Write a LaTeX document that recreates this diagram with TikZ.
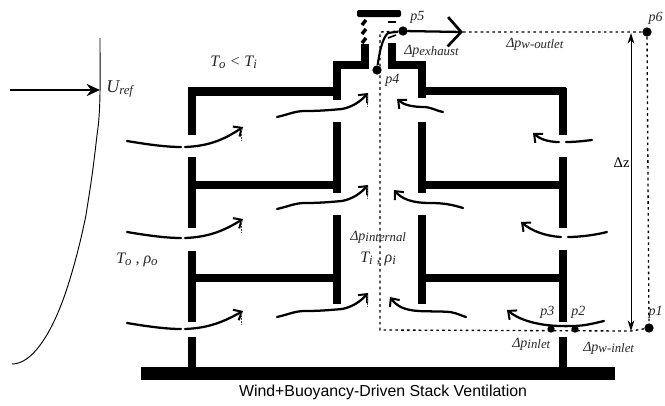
\documentclass[tikz,border=0pt]{standalone}
\usepackage{fontspec}
\setmainfont{Liberation Serif}
\setsansfont{Liberation Sans}
\usetikzlibrary{arrows.meta}
\tikzset{
  wall/.style={line width=6.2pt,black,line cap=butt,line join=miter},
  thinwall/.style={line width=5.4pt,black,line cap=butt,line join=miter},
  flowline/.style={line width=1.7pt,line cap=round},
  flowhead/.style={line width=1.7pt,line cap=round,-{Straight Barb[length=5pt,width=9pt,line width=1.5pt]}},
  backhead/.style={line width=1.7pt,line cap=round,{Straight Barb[length=5pt,width=9pt,line width=1.5pt]}-},
  dots/.style={line width=1pt,dash pattern=on 2pt off 2.4pt},
  lab/.style={font=\fontsize{10.5}{12}\selectfont\itshape,inner sep=0pt,text=black!85},
  dot/.style={circle,fill=black,inner sep=0pt,minimum size=7pt},
  tick/.style={line width=.7pt,dash pattern=on 1.2pt off .8pt,black!70}
}
\newcommand{\subt}[1]{\raisebox{-.25ex}{\fontsize{9.6}{10}\selectfont #1}}
\begin{document}
\begin{tikzpicture}[x=0.75pt,y=-0.75pt]
\useasboundingbox (0,0) rectangle (665,405);
% ground
\fill (141,367) rectangle (615,380);
% left outer wall
\draw[wall] (192,88) -- (192,135);
\draw[wall] (192,157) -- (192,228);
\draw[wall] (192,251) -- (192,322);
\draw[wall] (192,337) -- (192,367);
\draw[wall] (188,91.5) -- (337,91.5);
\draw[wall] (192,185) -- (337,185);
\draw[wall] (192,278) -- (337,278);
% left shaft wall
\draw[thinwall] (365,44) -- (365,65) -- (337,65) -- (337,100);
\draw[thinwall] (337,122) -- (337,193);
\draw[thinwall] (337,215) -- (337,304);
% right shaft wall
\draw[thinwall] (392,43) -- (392,65) -- (422,65) -- (422,98);
\draw[thinwall] (422,122) -- (422,193);
\draw[thinwall] (422,215) -- (422,304);
% right outer wall
\draw[wall] (422,91) -- (566,91);
\draw[wall] (422,185) -- (563,185);
\draw[wall] (422,278) -- (563,278);
\draw[wall] (563,88) -- (563,135);
\draw[wall] (563,157) -- (563,228);
\draw[wall] (563,250) -- (563,322);
\draw[wall] (563,337) -- (563,367);
% cap
\fill[rounded corners=1.5pt] (357,10) rectangle (401,17);
\foreach \a in {20,29,38}{
  \draw[line width=2.6pt] (362,\a+5) -- (366,\a);
}
\fill (388,21) rectangle (396,23);
% wind profile
\draw[line width=.7pt] (100,38) .. controls (100,80) and (101,110) .. (97,135)
  .. controls (92,180) and (89,195) .. (86,215)
  .. controls (80,245) and (72,275) .. (63,300)
  .. controls (50,335) and (32,364) .. (12,364);
% pressure points
\node[dot] (pfive) at (403,31) {};
\node[dot] (pfour) at (377,70) {};
\node[dot] (psix) at (647,32) {};
\node[dot] (pone) at (649,328) {};
\node[dot,minimum size=5.5pt] (ptwo) at (575,329) {};
\node[dot,minimum size=5.5pt] (pthree) at (551,329) {};
\coordinate (uin) at (10,90);
\coordinate (uout) at (100,90);
\coordinate (ex) at (463,32);
\coordinate (cor) at (380,32);
\coordinate (bot) at (380,330);
\coordinate (ztop) at (631,33);
\coordinate (zbot) at (631,331);
% dotted lines
\draw[dots] (ex) -- (psix) -- (pone) -- (zbot) -- (bot) -- (cor) -- (pfive);
% dz
\draw[line width=.7pt,{Stealth[length=8pt,width=5pt]}-{Stealth[length=8pt,width=5pt]}] (ztop) -- (zbot);
% Uref
\draw[line width=1.3pt,-{Stealth[length=10pt,width=9pt]}] (uin) -- (uout);
% exhaust
\draw[line width=1.6pt] (pfour) .. controls (379,55) and (382,38) .. (388,33) -- (pfive);
\draw[line width=1.2pt] (388,38) -- (396,35);
\draw[line width=1.7pt,line cap=round,-{Straight Barb[length=10pt,width=22pt,line width=2pt]}] (pfive) -- (ex);
% flows left, entering
\foreach \y/\e in {141/128,232/220,323/312}{
  \draw[flowline] (127,\y) .. controls (145,\y+3) and (165,\y+6) .. (181,\y+6);
  \draw[flowhead] (185,\y+6) .. controls (210,\y+5) and (225,\y-2) .. (243,\e-1);
  \draw[tick] (241,\e+1) -- (241,\e+12);
}
% flows through left shaft wall
\foreach \y in {117,209,317}{
  \draw[flowline] (277,\y) .. controls (290,\y-3) and (295,\y-6) .. (305,\y-6) .. controls (320,\y-6) and (330,\y-7) .. (342,\y-8);
  \draw[flowhead] (342,\y-8) .. controls (352,\y-10) and (360,\y-15) .. (368,\y-24);
  \draw[tick] (367,\y-22) -- (367,\y-11);
}
% flows through right shaft wall
\draw[backhead] (397,99) .. controls (404,105) and (412,107) .. (425,107) .. controls (433,108) and (437,111) .. (443,112);
\draw[backhead] (394,190) .. controls (402,199) and (412,203) .. (430,203) .. controls (445,203) and (453,205) .. (463,208);
\draw[backhead] (390,297) .. controls (403,315) and (425,310) .. (450,312) .. controls (457,313) and (462,316) .. (466,317);
% flows right outer wall
\draw[backhead] (533,133) .. controls (540,139) and (548,142) .. (559,142);
\draw[flowline] (566,142) .. controls (575,142) and (584,141) .. (592,140);
\draw[backhead] (521,222) .. controls (532,231) and (545,236) .. (561,237);
\draw[flowline] (568,237) .. controls (580,237) and (595,235) .. (607,232);
\draw[backhead] (507,310) .. controls (522,322) and (545,327) .. (572,326) .. controls (585,326) and (595,323) .. (604,321);
% labels
\node[lab,anchor=west] (uref) at (106,89) {\fontsize{13.5}{12}\selectfont U\subt{ref}};
\node[lab,anchor=west] (tlt) at (210,62) {\fontsize{12}{12}\selectfont T\subt{o} < T\subt{i}};
\node[lab,anchor=west] (torho) at (116,260) {\fontsize{12}{12}\selectfont T\subt{o} , ρ\subt{o}};
\node[lab,anchor=west] (tirho) at (360,259) {\fontsize{12}{12}\selectfont T\subt{i} , ρ\subt{i}};
\node[lab,anchor=west] (lpfive) at (410,17) {p5};
\node[lab,anchor=west] (lpfour) at (385,80) {p4};
\node[lab,anchor=east] (lpsix) at (663,18) {p6};
\node[lab,anchor=east] (lpone) at (663,312) {p1};
\node[lab,anchor=west] (lptwo) at (571,312) {p2};
\node[lab,anchor=west] (lpthree) at (540,312) {p3};
\node[lab,anchor=west] (dex) at (404,51) {Δp\subt{exhaust}};
\node[lab,anchor=west] (dwo) at (506,44) {Δp\subt{w-outlet}};
\node[lab,anchor=west] (dint) at (350,237) {Δp\subt{internal}};
\node[lab,anchor=west] (din) at (512,344) {Δp\subt{inlet}};
\node[lab,anchor=west] (dwi) at (583,348) {Δp\subt{w-inlet}};
\node[anchor=west,inner sep=1pt,fill=white,font=\fontsize{11}{12}\selectfont] (dz) at (612,163) {Δz};
\node[anchor=base,inner sep=0pt,font=\sffamily\fontsize{11.9}{13}\selectfont] (cap) at (383,396) {Wind+Buoyancy-Driven Stack Ventilation};
\end{tikzpicture}
\end{document}
